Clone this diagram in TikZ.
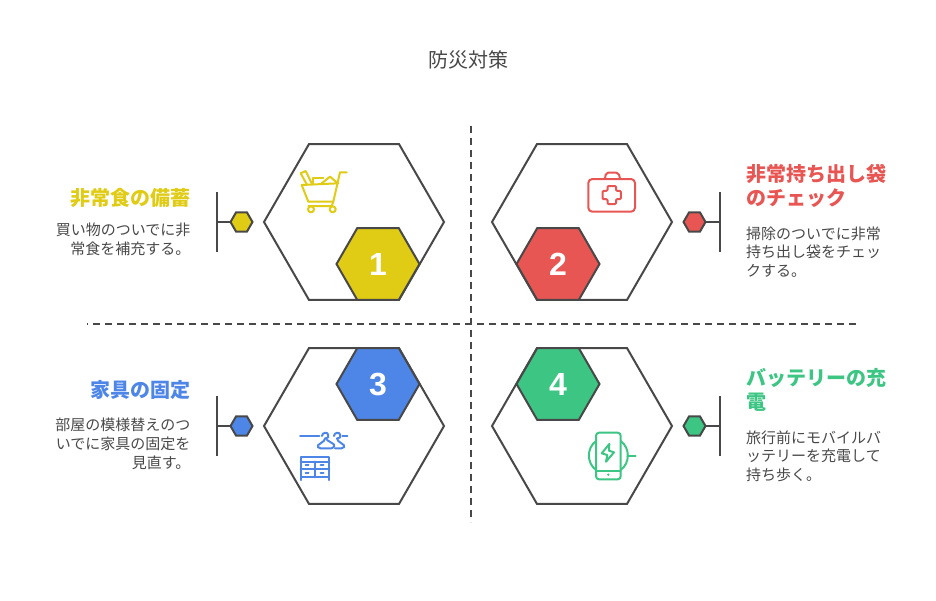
\documentclass[tikz,border=0pt]{standalone}
\usepackage{fontspec}
\setmainfont{Noto Sans CJK JP}
\newfontfamily\numfont{Liberation Sans}
\usetikzlibrary{shapes.geometric}
\definecolor{ink}{HTML}{484848}
\definecolor{yellowc}{HTML}{E0CB15}
\definecolor{redc}{HTML}{E85654}
\definecolor{bluec}{HTML}{4E86E8}
\definecolor{greenc}{HTML}{3CC583}
\tikzset{
  bighex/.style={regular polygon,regular polygon sides=6,minimum size=180pt,inner sep=0,outer sep=0,draw=ink,line width=2pt,fill=white},
  numhex/.style={regular polygon,regular polygon sides=6,minimum size=83pt,inner sep=0,outer sep=0,draw=ink,line width=2pt,fill=#1,text=white,font=\numfont\bfseries\fontsize{32}{32}\selectfont},
  dothex/.style={regular polygon,regular polygon sides=6,minimum size=22pt,inner sep=0,outer sep=0,draw=ink,line width=2pt,fill=#1},
  heading/.style={inner sep=0,text=#1,font=\bfseries\fontsize{20}{24}\selectfont},
  body/.style={inner sep=0,text=ink,font=\fontsize{15}{18.6}\selectfont},
  conn/.style={draw=ink,line width=2pt},
  icon/.style={draw=#1,line width=2pt,line join=round,line cap=round}
}
\begin{document}
\begin{tikzpicture}[x=1pt,y=-1pt]
\useasboundingbox (0,0) rectangle (936,600);
\node [inner sep=0,text=ink,font=\fontsize{20}{24}\selectfont] (title) at (468.5,60) {防災対策};

\draw [ink,line width=2pt,dash pattern=on 7pt off 5pt] (471,126) coordinate (vtop) -- (471,522) coordinate (vbot);
\draw [ink,line width=2pt,dash pattern=on 7pt off 5pt,dash phase=6pt] (87,324) coordinate (hleft) -- (856,324) coordinate (hright);

% hexagons
\node [bighex] (hexA) at (354,222) {};
\node [bighex] (hexB) at (582,222) {};
\node [bighex] (hexC) at (354,426) {};
\node [bighex] (hexD) at (582,426) {};
\node [numhex=yellowc] (numA) at (378,264) {1};
\node [numhex=redc] (numB) at (558,264) {2};
\node [numhex=bluec] (numC) at (378,384) {3};
\node [numhex=greenc] (numD) at (558,384) {4};

% side markers
\node [dothex=yellowc] (dotA) at (241.5,222) {};
\node [dothex=redc] (dotB) at (694.5,222) {};
\node [dothex=bluec] (dotC) at (241.5,426) {};
\node [dothex=greenc] (dotD) at (694.5,426) {};
\draw [conn] (216.5,192) coordinate (barAt) -- (216.5,252) coordinate (barAb);
\draw [conn] (719.5,192) coordinate (barBt) -- (719.5,252) coordinate (barBb);
\draw [conn] (216.5,396) coordinate (barCt) -- (216.5,456) coordinate (barCb);
\draw [conn] (719.5,396) coordinate (barDt) -- (719.5,456) coordinate (barDb);
\draw [conn] (dotA) -- (216.5,222) coordinate (stubA);
\draw [conn] (dotB) -- (719.5,222) coordinate (stubB);
\draw [conn] (dotC) -- (216.5,426) coordinate (stubC);
\draw [conn] (dotD) -- (719.5,426) coordinate (stubD);

% texts
\node [heading=yellowc,anchor=east] (headA) at (190.5,198) {非常食の備蓄};
\node [body,anchor=north east,align=right] (bodyA) at (190.5,223) {買い物のついでに非\\常食を補充する。};
\node [heading=redc,anchor=north west,align=left] (headB) at (746,164) {非常持ち出し袋\\のチェック};
\node [body,anchor=north west,align=left] (bodyB) at (746,226.5) {掃除のついでに非常\\持ち出し袋をチェッ\\クする。};
\node [heading=bluec,anchor=east] (headC) at (190.5,390) {家具の固定};
\node [body,anchor=north east,align=right] (bodyC) at (190.5,418) {部屋の模様替えのつ\\いでに家具の固定を\\見直す。};
\node [heading=greenc,anchor=north west,align=left] (headD) at (746,368) {バッテリーの充\\電};
\node [body,anchor=north west,align=left] (bodyD) at (746,430.5) {旅行前にモバイルバ\\ッテリーを充電して\\持ち歩く。};

% cart
\draw [icon=yellowc] (346.7,172.3) -- (340,172.3) -- (333.3,201.7) -- (308.3,201.7) -- (301.7,185) -- (338.3,183.3);
\draw [icon=yellowc] (333.3,201.7) -- (331.7,206) -- (308.3,206);
\draw [icon=yellowc] (311,209.3) circle (3);
\draw [icon=yellowc] (332.7,209.3) circle (3);
\draw [icon=yellowc] (306.7,184.3) -- (300.7,173.3) -- (305.7,171) -- (311.7,183.3);
\draw [icon=yellowc] (313.3,183.3) -- (313.3,178.3) -- (323.3,178.3);
\draw [icon=yellowc] (321.7,183.3) -- (330,176.7) -- (336.7,182.3);

% first aid
\draw [icon=redc,rounded corners=4pt] (588.3,179) rectangle (635,211.7);
\draw [icon=redc,rounded corners=2pt] (605,178.6) -- (606,172.7) -- (618.5,172.7) -- (620,178.6);
\draw [icon=redc,rounded corners=1pt] (607.5,186) -- (616,186) -- (616,190.8) -- (620.8,190.8) -- (620.8,199.2) -- (616,199.2) -- (616,204) -- (607.5,204) -- (607.5,199.2) -- (602.6,199.2) -- (602.6,190.8) -- (607.5,190.8) -- cycle;

% hangers and drawers
\draw [icon=bluec] (300,435.7) -- (319.3,435.7);
\draw [icon=bluec] (342.3,435.7) -- (347.3,435.7);
\draw [icon=bluec,rounded corners=1.5pt] (322,436) .. controls (322,432) and (328,432) .. (328,436) .. controls (328,438) and (325,438) .. (325,440) -- (317,446) -- (319,448.3) -- (333,448.3) -- (335,445) -- (327,440);
\draw [icon=bluec,rounded corners=1.5pt] (334,436) .. controls (334,432) and (340,432) .. (340,436) .. controls (340,438) and (337,438) .. (337,440) -- (345,446) -- (343,448.3) -- (335,448.3);
\draw [icon=bluec] (300.7,457.3) rectangle (329.3,477.3);
\draw [icon=bluec] (300.7,477.3) -- (300.7,480);
\draw [icon=bluec] (329.3,477.3) -- (329.3,480);
\draw [icon=bluec] (300.7,461.7) -- (329.3,461.7);
\draw [icon=bluec] (300.7,469) -- (329.3,469);
\draw [icon=bluec] (315,461.7) -- (315,477.3);
\foreach \hx in {307,322} \foreach \hy in {465.3,472.7}
  \draw [icon=bluec] (\hx-1.5,\hy) -- (\hx+1.5,\hy);

% phone charger
\draw [icon=greenc,rounded corners=3pt] (596,432.7) rectangle (620.7,479.3);
\draw [icon=greenc] (596,470.7) -- (620.7,470.7);
\fill [greenc] (608.3,474.7) circle (1.3);
\draw [icon=greenc] (596,441) .. controls (586.5,448) and (586.5,463) .. (596,470);
\draw [icon=greenc] (620.7,441) .. controls (630.2,448) and (630.2,463) .. (620.7,470);
\draw [icon=greenc] (627.3,455.7) -- (635.7,455.7);
\draw [icon=greenc] (609.3,444) -- (601.7,453.3) -- (607.3,455) -- (606,461.7) -- (614,452.3) -- (609,450.7) -- cycle;
\end{tikzpicture}
\end{document}
